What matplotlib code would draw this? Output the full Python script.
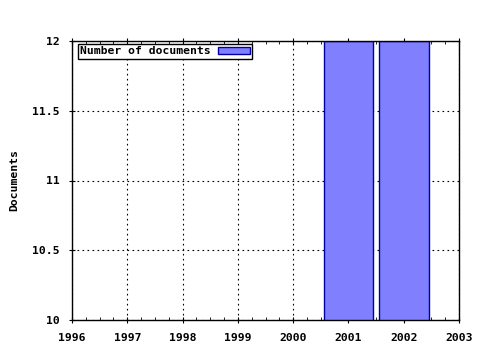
import matplotlib
matplotlib.use("Agg")
import matplotlib.pyplot as plt
from matplotlib.ticker import MultipleLocator
from matplotlib.patches import Patch

years = [2001, 2002]
documents = [12, 12]
xticks = [1996, 1997, 1998, 1999, 2000, 2001, 2002, 2003]
yticks = [10, 10.5, 11, 11.5, 12]
ylabels = ["10", "10.5", "11", "11.5", "12"]

font = dict(family="DejaVu Sans Mono", weight="bold", size=8.2)

fig = plt.figure(figsize=(4.8, 3.5), dpi=100)
ax = fig.add_axes([72/480, 1-320/350, (459-72)/480, (320-41)/350])

ax.bar(years, documents, width=0.9, color="#8080ff", edgecolor="#0000a0", linewidth=1.0, zorder=2)
ax.set_xlim(1996, 2003)
ax.set_ylim(10, 12)
ax.set_xticks(xticks)
ax.set_xticklabels([str(x) for x in xticks], **font)
ax.set_yticks(yticks)
ax.set_yticklabels(ylabels, **font)
ax.xaxis.set_minor_locator(MultipleLocator(0.25))
ax.tick_params(axis="x", which="major", direction="inout", top=True, bottom=True, length=4.3, pad=7)
ax.tick_params(axis="x", which="minor", direction="in", top=True, bottom=True, length=2.2)
ax.tick_params(axis="y", which="major", direction="inout", length=4.3, left=True, right=False, pad=6.5)
ax.grid(True, which="major", linestyle=(0, (1.5, 3)), color="black", linewidth=0.8, zorder=1)
ax.set_axisbelow(True)
for s in ax.spines.values():
    s.set_linewidth(1.0)
ax.set_ylabel("Documents", **font)
ax.yaxis.set_label_coords((19-72)/387, 0.5)

leg = ax.legend([Patch(facecolor="#8080ff", edgecolor="#0000a0")], ["Number of documents"],
                loc="upper left", bbox_to_anchor=(6/387, 1-3/279), prop=dict(family="DejaVu Sans Mono", weight="bold", size=8.2),
                markerfirst=False, frameon=True, fancybox=False, borderpad=0.2, handlelength=2.8, handleheight=0.6,
                borderaxespad=0, handletextpad=0.6)
leg.get_frame().set_edgecolor("black")
leg.get_frame().set_linewidth(1.0)
leg.get_frame().set_alpha(1)

fig.savefig("out.png", dpi=100)
